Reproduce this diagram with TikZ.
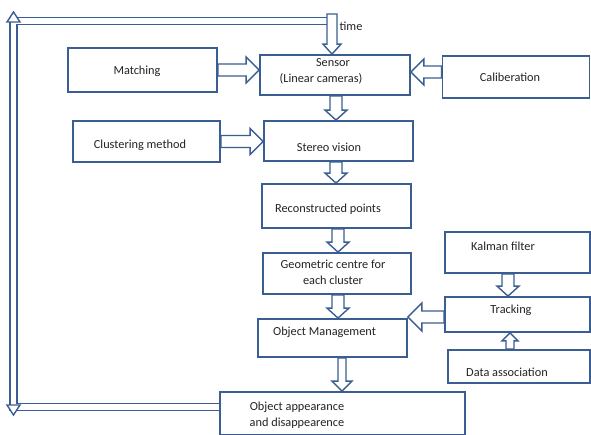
\documentclass[tikz,border=0pt]{standalone}
\usepackage{fontspec}
\setmainfont{Carlito}
\usetikzlibrary{calc}
\definecolor{bl}{RGB}{58,94,145}
\definecolor{tx}{RGB}{35,35,35}
\tikzset{
  box/.style={draw=bl, line width=1.8pt, fill=white, inner sep=0pt},
  lbl/.style={text=tx, font=\fontsize{12.3}{16}\selectfont, inner sep=0pt, align=center},
  arrline/.style={draw=bl, line width=1.4pt, fill=white, line join=miter},
  loopline/.style={draw=bl, line width=1.3pt, double=white, double distance=5.5pt, line join=miter}
}
\newcommand\blockarr[5]{%
  \draw[arrline] let \p1=(#1), \p2=(#2), \n1={atan2(\y2-\y1,\x2-\x1)}, \n2={veclen(\x2-\x1,\y2-\y1)} in
  [shift={(\p1)}, rotate=\n1] (0,#3) -- (\n2-#5,#3) -- (\n2-#5,#4) -- (\n2,0) -- (\n2-#5,-#4) -- (\n2-#5,-#3) -- (0,-#3) -- cycle;}
\begin{document}
\begin{tikzpicture}[x=1pt,y=-1pt]
\useasboundingbox (0,0) rectangle (591,435);
% boxes
\node[box, minimum width=149pt, minimum height=44pt] (match) at (142.5,70) {};
\node[box, minimum width=147pt, minimum height=41pt] (clust) at (146.5,141.5) {};
\node[box, minimum width=150pt, minimum height=40pt] (sensor) at (335,75) {};
\node[box, minimum width=147pt, minimum height=42pt] (calib) at (516,77) {};
\node[box, minimum width=149pt, minimum height=40pt] (stereo) at (338.5,141) {};
\node[box, minimum width=149pt, minimum height=44pt] (recon) at (336.5,206) {};
\node[box, minimum width=148pt, minimum height=41pt] (geo) at (337,273.5) {};
\node[box, minimum width=149pt, minimum height=38pt] (objm) at (332.5,338) {};
\node[box, minimum width=245pt, minimum height=43pt] (appear) at (342.5,413.5) {};
\node[box, minimum width=145pt, minimum height=41pt] (kalman) at (517.5,252.5) {};
\node[box, minimum width=145pt, minimum height=35pt] (track) at (517.5,314.5) {};
\node[box, minimum width=142pt, minimum height=33pt] (data) at (519,366.5) {};
% labels
\node[lbl] (tmatch) at (137,71) {Matching};
\node[lbl] (tclust) at (140,145) {Clustering method};
\node[lbl] (tsensor) at (321,71) {\hspace*{24pt}Sensor\\(Linear cameras)};
\node[lbl] (tcalib) at (510,77) {Caliberation};
\node[lbl] (tstereo) at (329,147) {Stereo vision};
\node[lbl] (trecon) at (328,209) {Reconstructed points};
\node[lbl] (tgeo) at (333,272) {Geometric centre for\\each cluster};
\node[lbl] (tobjm) at (324.5,332) {Object Management};
\node[lbl] (tappear) at (297,415) {Object appearance\\and disappearence};
\node[lbl] (tkalman) at (503,246) {Kalman filter};
\node[lbl] (ttrack) at (511,310) {Tracking};
\node[lbl] (tdata) at (507,372) {Data association};
\node[lbl] (ttime) at (351,26) {time};
% x / y guide coordinates for straight arrows
\coordinate (xa) at (336,0);
\coordinate (xb) at (338,0);
\coordinate (xc) at (342,0);
\coordinate (xk) at (508,0);
\coordinate (xd) at (510,0);
\coordinate (yc) at (0,72);
\coordinate (yt) at (0,317);
% feedback loop
\coordinate (bl) at (13.5,407);
\coordinate (tl) at (13.5,21);
\coordinate (tr) at (332,21);
\coordinate (ttop) at (332,14);
\draw[loopline] ([yshift=6.5pt]appear.west) -- (bl) -- (tl) -- (tr);
\draw[arrline] (7,22) -- (13.5,12) -- (20,22) -- cycle;
\draw[arrline] (7,405) -- (13.5,415) -- (20,405) -- cycle;
\blockarr{ttop}{sensor.north -| ttop}{5}{9}{10}
% block arrows
\blockarr{match.east}{match.east -| sensor.west}{6}{13}{13}
\blockarr{clust.east}{clust.east -| stereo.west}{6}{13}{13}
\blockarr{calib.west |- yc}{sensor.east |- yc}{6}{13}{13}
\blockarr{xa |- sensor.south}{xa |- stereo.north}{6}{11}{10}
\blockarr{xa |- stereo.south}{xa |- recon.north}{6}{11}{10}
\blockarr{xb |- recon.south}{xb |- geo.north}{6}{11}{10}
\blockarr{xb |- geo.south}{xb |- objm.north}{6}{11}{10}
\blockarr{xc |- objm.south}{xc |- appear.north}{4}{10}{10}
\blockarr{track.west |- yt}{objm.east |- yt}{6}{14}{14}
\blockarr{xk |- kalman.south}{xk |- track.north}{6}{11}{10}
\blockarr{xd |- data.north}{xd |- track.south}{4}{8}{8}
\end{tikzpicture}
\end{document}
